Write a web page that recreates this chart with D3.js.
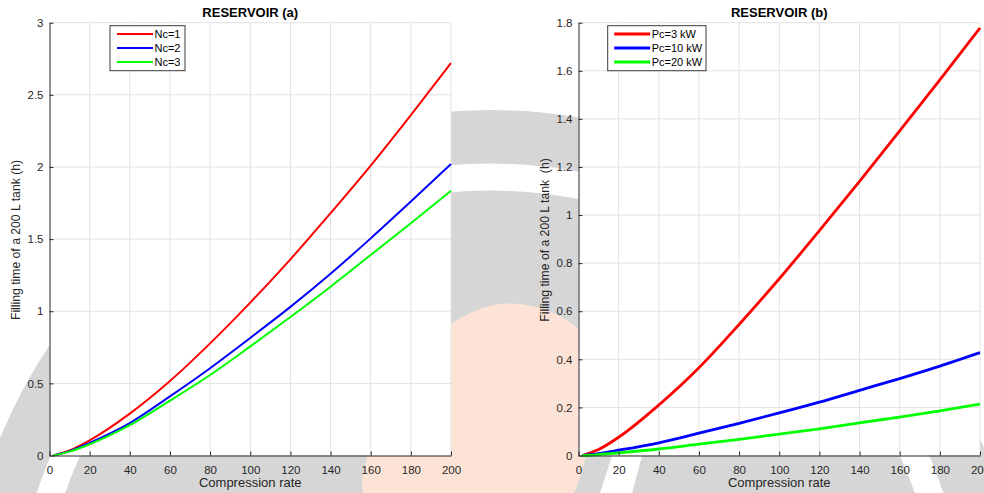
<!DOCTYPE html>
<html>
<head>
<meta charset="utf-8">
<script src="https://cdn.jsdelivr.net/npm/d3@7"></script>
<style>
  body { margin: 0; background: #fff; }
  svg { display: block; font-family: "Liberation Sans", Arial, sans-serif; }
</style>
</head>
<body>
<div id="chart"></div>
<script>
// compression rate samples (x) and filling times in hours
const rateA = [2, 10, 20, 40, 60, 80, 100, 120, 140, 160, 180, 200];
const nc1 = [0, 0.035, 0.105, 0.29, 0.516, 0.777, 1.06, 1.36, 1.68, 2.01, 2.36, 2.72];
const nc2 = [0, 0.03, 0.088, 0.225, 0.41, 0.605, 0.815, 1.03, 1.26, 1.505, 1.76, 2.02];
const nc3 = [0, 0.027, 0.078, 0.21, 0.38, 0.558, 0.756, 0.96, 1.17, 1.39, 1.61, 1.835];

const rateB = [2, 10, 20, 40, 60, 80, 100, 120, 140, 160, 180, 200];
const pc3 = [0, 0.025, 0.076, 0.21, 0.365, 0.545, 0.735, 0.935, 1.14, 1.35, 1.562, 1.778];
const pc10 = [0, 0.008, 0.022, 0.053, 0.093, 0.134, 0.177, 0.222, 0.271, 0.32, 0.372, 0.428];
const pc20 = [0, 0.004, 0.011, 0.027, 0.047, 0.067, 0.089, 0.111, 0.136, 0.16, 0.186, 0.214];

const xTicks = [0, 20, 40, 60, 80, 100, 120, 140, 160, 180, 200];
const yTicksA = [0, 0.5, 1, 1.5, 2, 2.5, 3];
const yTicksB = [0, 0.2, 0.4, 0.6, 0.8, 1, 1.2, 1.4, 1.6, 1.8];

const namesA = ["Nc=1", "Nc=2", "Nc=3"];
const namesB = ["Pc=3 kW", "Pc=10 kW", "Pc=20 kW"];
const colors = ["#ff0000", "#0000ff", "#00ff00"];

let WIDTH = 984,
    HEIGHT = 493;

let svg = d3.select("#chart")
    .append("svg")
    .attr("width", WIDTH)
    .attr("height", HEIGHT);

// faint logo watermark behind the figure
let wm = svg.append("g");
wm.append("circle")
    .attr("cx", 490).attr("cy", 640).attr("r", 530)
    .attr("fill", "#d6d6d6");
wm.append("circle")
    .attr("cx", 490).attr("cy", 640).attr("r", 463)
    .attr("fill", "none")
    .attr("stroke", "#fff")
    .attr("stroke-width", 27);
wm.append("path")
    .attr("d", d3.line().curve(d3.curveCatmullRomClosed)([
        [368, 505], [380, 420], [428, 342], [500, 304], [570, 322],
        [610, 380], [588, 450], [562, 505]
    ]))
    .attr("fill", "#fde3d5");
wm.append("path")
    .attr("d", "M600,493 L632,493 L642,456 L612,456 Z")
    .attr("fill", "#fff");

function drawPanel(opts) {
    let x = d3.scaleLinear().domain([0, 200]).range([opts.left, opts.right]);
    let y = d3.scaleLinear().domain(opts.yDomain).range([455.5, 22.7]);

    let g = svg.append("g");

    g.append("rect")
        .attr("x", opts.left).attr("y", y.range()[1])
        .attr("width", opts.right - opts.left)
        .attr("height", y.range()[0] - y.range()[1])
        .attr("fill", "#fff");

    // grid
    g.append("g")
        .selectAll("line")
        .data(xTicks.slice(1))
        .enter()
        .append("line")
        .attr("x1", d => x(d)).attr("x2", d => x(d))
        .attr("y1", y.range()[0]).attr("y2", y.range()[1])
        .attr("stroke", "#e2e2e2");
    g.append("g")
        .selectAll("line")
        .data(opts.yTicks.slice(1))
        .enter()
        .append("line")
        .attr("x1", opts.left).attr("x2", opts.right)
        .attr("y1", d => y(d)).attr("y2", d => y(d))
        .attr("stroke", "#e2e2e2");

    // curves
    let line = d3.line()
        .x((d, i) => x(opts.rate[i]))
        .y(d => y(d))
        .curve(d3.curveMonotoneX);

    opts.series.forEach((s, i) => {
        g.append("path")
            .attr("d", line(s))
            .attr("fill", "none")
            .attr("stroke", colors[i])
            .attr("stroke-width", opts.lw);
    });

    // axes, ticks inward like the original
    let xAxis = d3.axisBottom(x)
        .tickValues(xTicks)
        .tickSizeInner(-4)
        .tickSizeOuter(0)
        .tickPadding(10);
    let gx = g.append("g")
        .attr("transform", `translate(0,${y.range()[0]})`)
        .call(xAxis);

    let yAxis = d3.axisLeft(y)
        .tickValues(opts.yTicks)
        .tickFormat(d3.format("~g"))
        .tickSizeInner(-4)
        .tickSizeOuter(0)
        .tickPadding(6);
    let gy = g.append("g")
        .attr("transform", `translate(${opts.left},0)`)
        .call(yAxis);

    [gx, gy].forEach(a => {
        a.select(".domain").attr("stroke", "#262626");
        a.selectAll(".tick line").attr("stroke", "#262626");
        a.selectAll(".tick text")
            .attr("fill", "#262626")
            .style("font-size", "11.5px")
            .style("font-family", "Liberation Sans, Arial, sans-serif");
    });

    let cx = (opts.left + opts.right) / 2;

    g.append("text")
        .attr("x", cx).attr("y", 16.5)
        .attr("text-anchor", "middle")
        .style("font-size", "13px")
        .style("font-weight", "bold")
        .attr("fill", "#000")
        .text(opts.title);

    g.append("text")
        .attr("x", cx).attr("y", 487)
        .attr("text-anchor", "middle")
        .style("font-size", "13px")
        .attr("fill", "#262626")
        .text("Compression rate");

    g.append("text")
        .attr("transform", `translate(${opts.yLabelX},240) rotate(-90)`)
        .attr("text-anchor", "middle")
        .style("font-size", "12.2px")
        .style("white-space", "pre")
        .attr("fill", "#262626")
        .text(opts.yLabel);

    // legend
    let lg = g.append("g");
    lg.append("rect")
        .attr("x", opts.legX).attr("y", 25.7)
        .attr("width", opts.legW).attr("height", 45)
        .attr("fill", "#fff")
        .attr("stroke", "#3a3a3a")
        .attr("stroke-width", 1);
    opts.names.forEach((n, i) => {
        let ly = 34 + i * 14;
        lg.append("line")
            .attr("x1", opts.legX + opts.legPad).attr("x2", opts.legX + opts.legPad + opts.legLine)
            .attr("y1", ly).attr("y2", ly)
            .attr("stroke", colors[i])
            .attr("stroke-width", opts.lw);
        lg.append("text")
            .attr("x", opts.legX + opts.legPad + opts.legLine + 1.5)
            .attr("y", ly + 4)
            .style("font-size", "11px")
            .attr("fill", "#000")
            .text(n);
    });
}

drawPanel({
    left: 49.5, right: 451,
    yDomain: [0, 3], yTicks: yTicksA,
    rate: rateA, series: [nc1, nc2, nc3],
    lw: 2,
    title: "RESERVOIR (a)",
    yLabel: "Filling time of a 200 L tank (h)",
    yLabelX: 20,
    names: namesA,
    legX: 110, legW: 75, legPad: 7, legLine: 36
});

drawPanel({
    left: 578.5, right: 980,
    yDomain: [0, 1.8], yTicks: yTicksB,
    rate: rateB, series: [pc3, pc10, pc20],
    lw: 2.8,
    title: "RESERVOIR (b)",
    yLabel: "Filling time of a 200 L tank  (h)",
    yLabelX: 549,
    names: namesB,
    legX: 607.7, legW: 98.3, legPad: 6.5, legLine: 36
});
</script>
</body>
</html>
